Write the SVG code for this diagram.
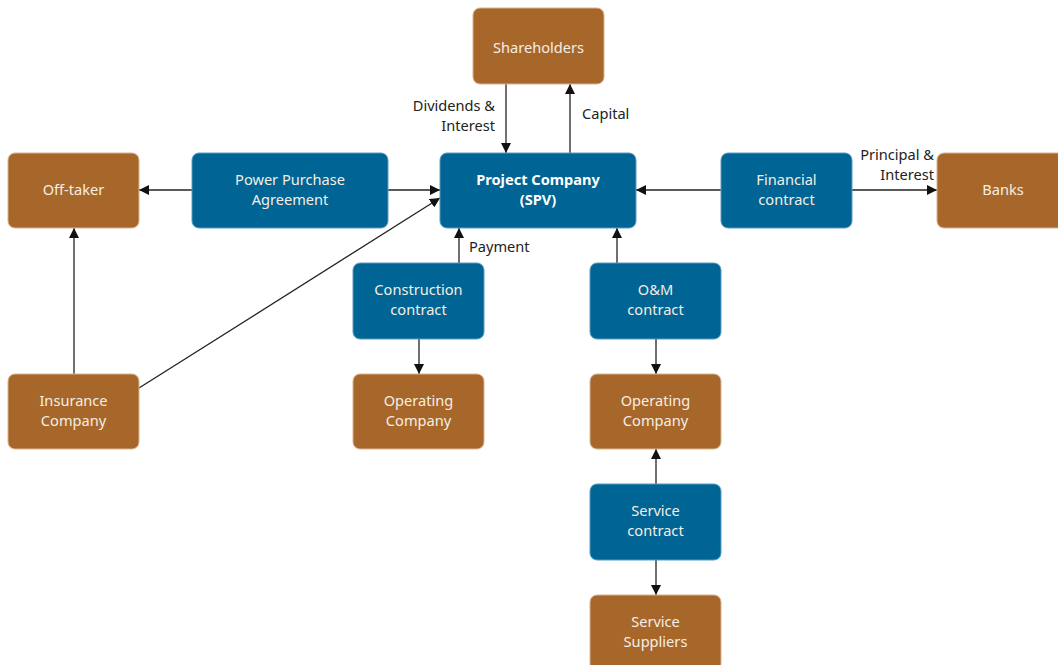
<svg xmlns="http://www.w3.org/2000/svg" width="1058" height="665" viewBox="0 0 1058 665">
  <defs>
    <marker id="arrow" viewBox="0 0 10 10" refX="10" refY="5" markerWidth="10" markerHeight="10" markerUnits="userSpaceOnUse" orient="auto">
      <path d="M0,0 L10,5 L0,10 Z" fill="#111"/>
    </marker>
    <style>
      .party { fill: #a8672a; stroke: #d9b48f; stroke-width: 1; }
      .contract { fill: #006494; stroke: #5b9cc0; stroke-width: 1; }
      .nt { font-family: "Noto Sans", "Open Sans", sans-serif; font-size: 14.6px; fill: #f4eee4; text-anchor: middle; }
      .bold { font-weight: bold; fill: #ffffff; }
      .lbl { font-family: "Noto Sans", "Open Sans", sans-serif; font-size: 14.6px; fill: #222; }
      .conn { stroke: #222; stroke-width: 1.3; fill: none; marker-end: url(#arrow); }
    </style>
  </defs>
  <rect width="1058" height="665" fill="#ffffff"/>

  <!-- connectors and their labels -->
  <g id="connectors">
    <line class="conn" x1="506" y1="84" x2="506" y2="153"/>
    <line class="conn" x1="570" y1="153" x2="570" y2="84"/>
    <line class="conn" x1="192" y1="190" x2="139" y2="190"/>
    <line class="conn" x1="388" y1="190" x2="440" y2="190"/>
    <line class="conn" x1="721" y1="190" x2="636" y2="190"/>
    <line class="conn" x1="852" y1="190" x2="937" y2="190"/>
    <line class="conn" x1="74" y1="374" x2="74" y2="228"/>
    <line class="conn" x1="139" y1="388" x2="440" y2="198"/>
    <line class="conn" x1="459" y1="263" x2="459" y2="228"/>
    <line class="conn" x1="419" y1="339" x2="419" y2="374"/>
    <line class="conn" x1="617" y1="263" x2="617" y2="228"/>
    <line class="conn" x1="656" y1="339" x2="656" y2="374"/>
    <line class="conn" x1="656" y1="484" x2="656" y2="449"/>
    <line class="conn" x1="656" y1="560" x2="656" y2="595"/>
    <text class="lbl" text-anchor="end"><tspan x="495" y="110.5">Dividends &amp;</tspan><tspan x="495" y="130.5">Interest</tspan></text>
    <text class="lbl" x="582" y="118.5">Capital</text>
    <text class="lbl" text-anchor="end"><tspan x="934" y="160">Principal &amp;</tspan><tspan x="934" y="180">Interest</tspan></text>
    <text class="lbl" x="469" y="252">Payment</text>
  </g>

  <g id="shareholders">
    <rect class="party" x="473" y="8" width="131" height="76" rx="7"/>
    <text class="nt" x="538.5" y="53">Shareholders</text>
  </g>
  <g id="off-taker">
    <rect class="party" x="8" y="153" width="131" height="75" rx="7"/>
    <text class="nt" x="73.5" y="195">Off-taker</text>
  </g>
  <g id="ppa">
    <rect class="contract" x="192" y="153" width="196" height="75" rx="7"/>
    <text class="nt"><tspan x="290" y="184.5">Power Purchase</tspan><tspan x="290" y="204.5">Agreement</tspan></text>
  </g>
  <g id="spv">
    <rect class="contract" x="440" y="153" width="196" height="75" rx="7"/>
    <text class="nt bold"><tspan x="538" y="184.5">Project Company</tspan><tspan x="538" y="204.5">(SPV)</tspan></text>
  </g>
  <g id="financial-contract">
    <rect class="contract" x="721" y="153" width="131" height="75" rx="7"/>
    <text class="nt"><tspan x="786.5" y="184.5">Financial</tspan><tspan x="786.5" y="204.5">contract</tspan></text>
  </g>
  <g id="banks">
    <rect class="party" x="937" y="153" width="131" height="75" rx="7"/>
    <text class="nt" x="1003" y="195">Banks</text>
  </g>
  <g id="construction-contract">
    <rect class="contract" x="353" y="263" width="131" height="76" rx="7"/>
    <text class="nt"><tspan x="418.5" y="294.5">Construction</tspan><tspan x="418.5" y="314.5">contract</tspan></text>
  </g>
  <g id="om-contract">
    <rect class="contract" x="590" y="263" width="131" height="76" rx="7"/>
    <text class="nt"><tspan x="655.5" y="294.5">O&amp;M</tspan><tspan x="655.5" y="314.5">contract</tspan></text>
  </g>
  <g id="insurance">
    <rect class="party" x="8" y="374" width="131" height="75" rx="7"/>
    <text class="nt"><tspan x="73.5" y="405.5">Insurance</tspan><tspan x="73.5" y="425.5">Company</tspan></text>
  </g>
  <g id="operating-company-1">
    <rect class="party" x="353" y="374" width="131" height="75" rx="7"/>
    <text class="nt"><tspan x="418.5" y="405.5">Operating</tspan><tspan x="418.5" y="425.5">Company</tspan></text>
  </g>
  <g id="operating-company-2">
    <rect class="party" x="590" y="374" width="131" height="75" rx="7"/>
    <text class="nt"><tspan x="655.5" y="405.5">Operating</tspan><tspan x="655.5" y="425.5">Company</tspan></text>
  </g>
  <g id="service-contract">
    <rect class="contract" x="590" y="484" width="131" height="76" rx="7"/>
    <text class="nt"><tspan x="655.5" y="515.5">Service</tspan><tspan x="655.5" y="535.5">contract</tspan></text>
  </g>
  <g id="service-suppliers">
    <rect class="party" x="590" y="595" width="131" height="76" rx="7"/>
    <text class="nt"><tspan x="655.5" y="626.5">Service</tspan><tspan x="655.5" y="646.5">Suppliers</tspan></text>
  </g>
</svg>
